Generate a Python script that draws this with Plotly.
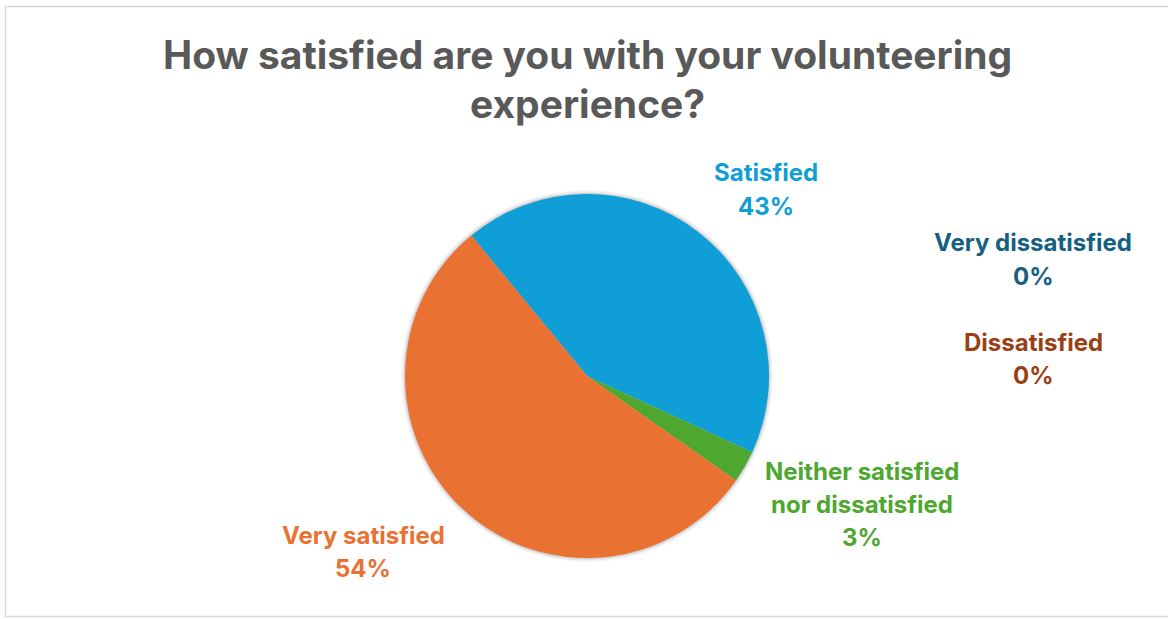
import plotly.graph_objects as go

# Survey responses, listed in clockwise drawing order
labels = ["Satisfied", "Neither satisfied nor dissatisfied", "Very satisfied",
          "Very dissatisfied", "Dissatisfied"]
responses = [15, 1, 19, 0, 0]
slice_colors = ["#0F9ED5", "#4EA72E", "#E97132", "#156082", "#A0441A"]
label_colors = ["#0F9ED5", "#4EA72E", "#E97132", "#156082", "#9A3F13"]

# Text lines of each data label (category wording split as displayed)
label_lines = [["Satisfied"], ["Neither satisfied", "nor dissatisfied"], ["Very satisfied"],
               ["Very dissatisfied"], ["Dissatisfied"]]
# Label block anchor (centre of first line) in pixels
label_pos = [(766, 173), (862, 471), (363, 535), (1033, 243), (1033, 342)]

W, H = 1168, 619
cx, cy, r = 587, 376, 182
total = sum(responses)

fig = go.Figure()
fig.add_trace(go.Pie(
    labels=labels, values=responses, sort=False, direction="clockwise",
    rotation=-39.5, textinfo="none", hoverinfo="label+percent",
    marker=dict(colors=slice_colors, line=dict(width=0)),
    domain=dict(x=[(cx - r) / W, (cx + r) / W], y=[1 - (cy + r) / H, 1 - (cy - r) / H]),
    showlegend=False,
))

def px(x):
    return x / W

def py(y):
    return 1 - y / H

annotations = []
line_gap = 33
for lines, val, col, (lx, ly) in zip(label_lines, responses, label_colors, label_pos):
    pct = f"{round(val / total * 100)}%"
    for i, t in enumerate(lines + [pct]):
        annotations.append(dict(
            x=px(lx), y=py(ly + i * line_gap), xref="paper", yref="paper",
            text=f"<b>{t}</b>", showarrow=False, xanchor="center", yanchor="middle",
            font=dict(family="Inter", size=24, color=col),
        ))

title_lines = ["How satisfied are you with your volunteering", "experience?"]
for i, t in enumerate(title_lines):
    annotations.append(dict(
        x=px(587), y=py(55 + i * 48), xref="paper", yref="paper",
        text=f"<b>{t}</b>", showarrow=False, xanchor="center", yanchor="middle",
        font=dict(family="Inter", size=39, color="#595959"),
    ))

shapes = [dict(type="rect", xref="paper", yref="paper", x0=px(5.5), x1=px(1175),
               y0=py(616.5), y1=py(6.5), line=dict(color="#D9D9D9", width=1.5),
               layer="below")]
# soft glow around the pie
for dr, a in [(4, 0.04), (2.5, 0.06), (1.2, 0.09)]:
    shapes.append(dict(type="circle", xref="paper", yref="paper",
                       x0=px(cx - r - dr), x1=px(cx + r + dr),
                       y0=py(cy + r + dr), y1=py(cy - r - dr),
                       line=dict(width=0), fillcolor=f"rgba(0,0,0,{a})", layer="below"))

fig.update_layout(
    width=W, height=H, margin=dict(l=0, r=0, t=0, b=0),
    paper_bgcolor="white", plot_bgcolor="white",
    annotations=annotations, shapes=shapes,
)
fig.write_html("out.html")
